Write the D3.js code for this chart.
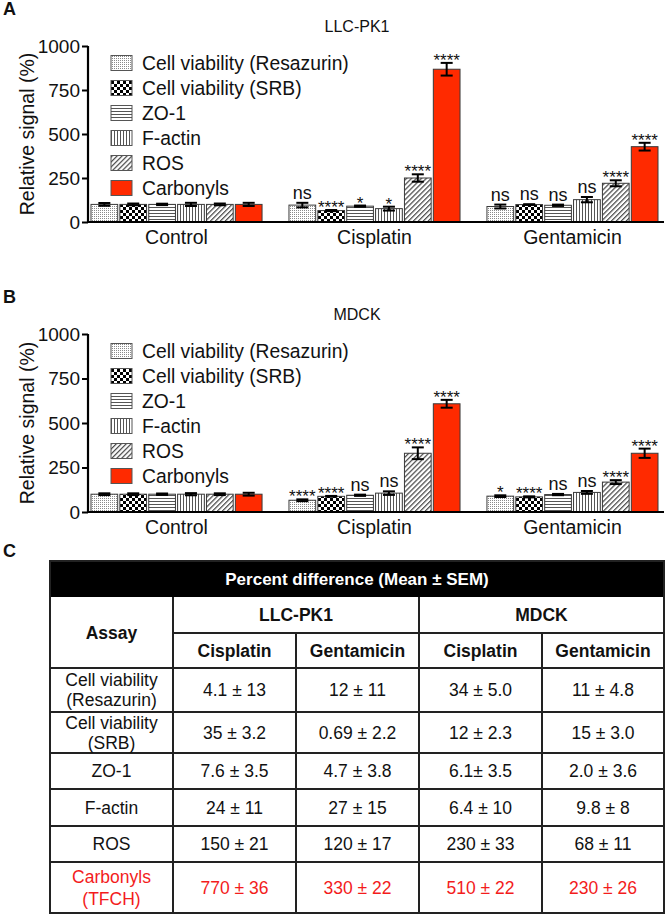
<!DOCTYPE html>
<html><head><meta charset="utf-8">
<script src="https://cdn.jsdelivr.net/npm/d3@7"></script>
<style>
html,body{margin:0;padding:0;background:#fff;}
svg{display:block;font-family:"Liberation Sans",Arial,Helvetica,sans-serif;}
</style></head>
<body>
<svg id="chart" width="666" height="916"></svg>
<script>
// ---------- DATA ----------
const categories = ["Control", "Cisplatin", "Gentamicin"];
const assays = ["Cell viability (Resazurin)", "Cell viability (SRB)", "ZO-1", "F-actin", "ROS", "Carbonyls"];
const yTicks = [0, 250, 500, 750, 1000];

// Panel A: LLC-PK1
const llcControl = [100, 100, 100, 100, 100, 100];
const llcControlErr = [8, 5, 4, 9, 5, 9];
const llcCisplatin = [96, 65, 90, 76, 250, 868];
const llcCisplatinErr = [13, 3.2, 3.5, 11, 21, 36];
const llcGentamicin = [88, 99, 95, 127, 220, 428];
const llcGentamicinErr = [11, 2.2, 3.8, 15, 17, 22];
const llcSigCisplatin = ["ns", "****", "*", "*", "****", "****"];
const llcSigGentamicin = ["ns", "ns", "ns", "ns", "****", "****"];

// Panel B: MDCK
const mdckControl = [100, 100, 100, 100, 100, 100];
const mdckControlErr = [5, 5, 4, 6, 5, 8];
const mdckCisplatin = [66, 88, 94, 106, 330, 608];
const mdckCisplatinErr = [5, 2.3, 3.5, 10, 33, 22];
const mdckGentamicin = [89, 85, 98, 110, 168, 330];
const mdckGentamicinErr = [4.8, 3, 3.6, 8, 11, 26];
const mdckSigCisplatin = ["****", "****", "ns", "ns", "****", "****"];
const mdckSigGentamicin = ["*", "****", "ns", "ns", "****", "****"];

// Panel C: table
const tableTitle = "Percent difference (Mean ± SEM)";
const tableCellLines = ["LLC-PK1", "MDCK"];
const tableDrugs = ["Cisplatin", "Gentamicin", "Cisplatin", "Gentamicin"];
const tableAssays = [["Cell viability", "(Resazurin)"], ["Cell viability", "(SRB)"], ["ZO-1"], ["F-actin"], ["ROS"], ["Carbonyls", "(TFCH)"]];
const llcCisplatinPct = ["4.1 ± 13", "35 ± 3.2", "7.6 ± 3.5", "24 ± 11", "150 ± 21", "770 ± 36"];
const llcGentamicinPct = ["12 ± 11", "0.69 ± 2.2", "4.7 ± 3.8", "27 ± 15", "120 ± 17", "330 ± 22"];
const mdckCisplatinPct = ["34 ± 5.0", "12 ± 2.3", "6.1± 3.5", "6.4 ± 10", "230 ± 33", "510 ± 22"];
const mdckGentamicinPct = ["11 ± 4.8", "15 ± 3.0", "2.0 ± 3.6", "9.8 ± 8", "68 ± 11", "230 ± 26"];

// ---------- DRAW ----------
const svg = d3.select("#chart");
const RED = "#ff2a00";
const TRED = "#f31c1c";
const FONT = '"Liberation Sans", Arial, Helvetica, sans-serif';

// patterns
const defs = svg.append("defs");
const pDots = defs.append("pattern").attr("id", "p0").attr("patternUnits", "userSpaceOnUse").attr("width", 2).attr("height", 2);
pDots.append("rect").attr("width", 2).attr("height", 2).attr("fill", "#fff");
pDots.append("rect").attr("width", 1).attr("height", 1).attr("fill", "#8a8a8a");
const pChk = defs.append("pattern").attr("id", "p1").attr("patternUnits", "userSpaceOnUse").attr("width", 6).attr("height", 6);
pChk.append("rect").attr("width", 6).attr("height", 6).attr("fill", "#fff");
pChk.append("rect").attr("width", 3).attr("height", 3).attr("fill", "#000");
pChk.append("rect").attr("x", 3).attr("y", 3).attr("width", 3).attr("height", 3).attr("fill", "#000");
const pH = defs.append("pattern").attr("id", "p2").attr("patternUnits", "userSpaceOnUse").attr("width", 4).attr("height", 3);
pH.append("rect").attr("width", 4).attr("height", 3).attr("fill", "#fff");
pH.append("rect").attr("width", 4).attr("height", 1).attr("fill", "#555");
const pV = defs.append("pattern").attr("id", "p3").attr("patternUnits", "userSpaceOnUse").attr("width", 3).attr("height", 4);
pV.append("rect").attr("width", 3).attr("height", 4).attr("fill", "#fff");
pV.append("rect").attr("width", 1).attr("height", 4).attr("fill", "#555");
const pD = defs.append("pattern").attr("id", "p4").attr("patternUnits", "userSpaceOnUse").attr("width", 3.5).attr("height", 4).attr("patternTransform", "rotate(45)");
pD.append("rect").attr("width", 3.5).attr("height", 4).attr("fill", "#fff");
pD.append("rect").attr("width", 1.2).attr("height", 4).attr("fill", "#444");

const fills = ["url(#p0)", "url(#p1)", "url(#p2)", "url(#p3)", "url(#p4)", RED];

function panel(cfg) {
  const g = svg.append("g");
  const y = d3.scaleLinear().domain([0, 1000]).range([cfg.y0, cfg.y1]);
  const x = d3.scaleBand().domain(categories).range([91, 658]).paddingInner(0.136).paddingOuter(0);
  const xs = d3.scaleBand().domain(assays).range([0, x.bandwidth()]).paddingInner(0.075).paddingOuter(0);

  // panel letter
  g.append("text").attr("x", 3).attr("y", cfg.y1 - 31).attr("font-size", 18).attr("font-weight", "bold").attr("fill", "#111").text(cfg.letter);
  // title
  g.append("text").attr("x", 357).attr("y", cfg.y1 - 14).attr("text-anchor", "middle").attr("font-size", 16).attr("fill", "#111").text(cfg.title);
  // y title
  g.append("text").attr("transform", `translate(34,${(cfg.y0 + cfg.y1) / 2}) rotate(-90)`).attr("text-anchor", "middle").attr("font-size", 19.5).attr("fill", "#111").text("Relative signal (%)");

  const values = [cfg.control, cfg.cisplatin, cfg.gentamicin];
  const errs = [cfg.controlErr, cfg.cisplatinErr, cfg.gentamicinErr];
  const sigs = [null, cfg.sigCis, cfg.sigGen];
  const rows = [];
  categories.forEach((c, ci) => assays.forEach((a, ai) => rows.push({c, a, ai, v: values[ci][ai], e: errs[ci][ai], s: sigs[ci] ? sigs[ci][ai] : null})));

  const bars = g.append("g");
  bars.selectAll("rect").data(rows).join("rect")
    .attr("x", d => x(d.c) + xs(d.a)).attr("width", xs.bandwidth())
    .attr("y", d => y(d.v)).attr("height", d => y(0) - y(d.v))
    .attr("fill", d => fills[d.ai]).attr("stroke", "#3a3a3a").attr("stroke-width", 1);

  // error bars
  const eb = g.append("g").attr("stroke", "#000").attr("stroke-width", 2);
  rows.forEach(d => {
    const cx = x(d.c) + xs(d.a) + xs.bandwidth() / 2;
    eb.append("line").attr("x1", cx).attr("x2", cx).attr("y1", y(d.v + d.e)).attr("y2", y(d.v - d.e));
    eb.append("line").attr("x1", cx - 6).attr("x2", cx + 6).attr("y1", y(d.v + d.e)).attr("y2", y(d.v + d.e));
    eb.append("line").attr("x1", cx - 6).attr("x2", cx + 6).attr("y1", y(d.v - d.e)).attr("y2", y(d.v - d.e));
  });

  // significance
  g.append("g").selectAll("text").data(rows.filter(d => d.s)).join("text")
    .attr("x", d => x(d.c) + xs(d.a) + xs.bandwidth() / 2)
    .attr("y", d => d.s === "ns" ? y(d.v + d.e) - 4 : y(d.v + d.e) + 3)
    .attr("text-anchor", "middle")
    .attr("font-size", d => d.s === "ns" ? 18 : 17)
    .attr("fill", "#111")
    .text(d => d.s);

  // axes
  const yAxis = g.append("g").attr("transform", "translate(88,0)")
    .call(d3.axisLeft(y).tickValues(yTicks).tickSize(6).tickPadding(2).tickFormat(d3.format("d")));
  yAxis.select(".domain").attr("stroke", "#000").attr("stroke-width", 2.2).attr("d", `M0,${y(1000)}V${y(0)}`);
  yAxis.selectAll(".tick line").attr("stroke", "#000").attr("stroke-width", 2);
  yAxis.selectAll(".tick text").attr("font-size", 19).attr("font-family", FONT).attr("fill", "#111");

  const xAxis = g.append("g").attr("transform", `translate(0,${y(0)})`)
    .call(d3.axisBottom(x).tickSize(0).tickPadding(8));
  xAxis.select(".domain").attr("stroke", "#000").attr("stroke-width", 2.2).attr("d", `M87,0H664`);
  xAxis.selectAll(".tick text").attr("font-size", 19.5).attr("font-family", FONT).attr("fill", "#111");

  // legend
  const lg = g.append("g");
  assays.forEach((a, i) => {
    const cy = y(1000) + 17 + i * 25;
    lg.append("rect").attr("x", 111).attr("y", cy - 7.5).attr("width", 21).attr("height", 15)
      .attr("fill", fills[i]).attr("stroke", "#555").attr("stroke-width", 1);
    lg.append("text").attr("x", 142).attr("y", cy).attr("dy", "0.36em").attr("font-size", 19.3).attr("fill", "#111").text(a);
  });
}

panel({letter: "A", title: "LLC-PK1", y0: 222, y1: 46,
  control: llcControl, controlErr: llcControlErr, cisplatin: llcCisplatin, cisplatinErr: llcCisplatinErr,
  gentamicin: llcGentamicin, gentamicinErr: llcGentamicinErr, sigCis: llcSigCisplatin, sigGen: llcSigGentamicin});
panel({letter: "B", title: "MDCK", y0: 512, y1: 334,
  control: mdckControl, controlErr: mdckControlErr, cisplatin: mdckCisplatin, cisplatinErr: mdckCisplatinErr,
  gentamicin: mdckGentamicin, gentamicinErr: mdckGentamicinErr, sigCis: mdckSigCisplatin, sigGen: mdckSigGentamicin});

// ---------- TABLE ----------
const tg = svg.append("g");
tg.append("text").attr("x", 3).attr("y", 557).attr("font-size", 18).attr("font-weight", "bold").attr("fill", "#111").text("C");
const colX = [50, 173, 296, 419, 542, 664];
const rowY = [561, 597, 633, 668, 712, 753, 789, 826, 862, 913];
const LW = 2, LC = "#222";
tg.append("rect").attr("x", colX[0]).attr("y", rowY[0]).attr("width", colX[5] - colX[0]).attr("height", rowY[1] - rowY[0]).attr("fill", "#000");
tg.append("text").attr("x", (colX[0] + colX[5]) / 2).attr("y", (rowY[0] + rowY[1]) / 2).attr("dy", "0.36em")
  .attr("text-anchor", "middle").attr("font-size", 17).attr("font-weight", "bold").attr("fill", "#fff").text(tableTitle);

function hline(x1, x2, yy) { tg.append("line").attr("x1", x1).attr("x2", x2).attr("y1", yy).attr("y2", yy).attr("stroke", LC).attr("stroke-width", LW); }
function vline(xx, y1, y2) { tg.append("line").attr("x1", xx).attr("x2", xx).attr("y1", y1).attr("y2", y2).attr("stroke", LC).attr("stroke-width", LW); }
hline(colX[1], colX[5], rowY[2]);
hline(colX[1], colX[5], rowY[3]);
for (let r = 3; r < rowY.length; r++) hline(colX[0], colX[5], rowY[r]);
vline(colX[0], rowY[0], rowY[9]);
vline(colX[5], rowY[0], rowY[9]);
vline(colX[1], rowY[1], rowY[9]);
vline(colX[3], rowY[1], rowY[9]);
vline(colX[2], rowY[2], rowY[9]);
vline(colX[4], rowY[2], rowY[9]);
tg.append("rect").attr("x", colX[0]).attr("y", rowY[0]).attr("width", colX[5] - colX[0]).attr("height", rowY[9] - rowY[0]).attr("fill", "none").attr("stroke", LC).attr("stroke-width", LW);

function cellText(cx, cy, lines, opts) {
  const lh = opts.lh || 20;
  lines.forEach((t, i) => {
    tg.append("text").attr("x", cx).attr("y", cy + (i - (lines.length - 1) / 2) * lh).attr("dy", "0.36em")
      .attr("text-anchor", "middle").attr("font-size", opts.size || 17.5).attr("font-weight", opts.bold ? "bold" : "normal")
      .attr("fill", opts.color || "#111").text(t);
  });
}
cellText((colX[0] + colX[1]) / 2, (rowY[1] + rowY[3]) / 2, ["Assay"], {bold: true});
cellText((colX[1] + colX[3]) / 2, (rowY[1] + rowY[2]) / 2, [tableCellLines[0]], {bold: true});
cellText((colX[3] + colX[5]) / 2, (rowY[1] + rowY[2]) / 2, [tableCellLines[1]], {bold: true});
tableDrugs.forEach((d, i) => cellText((colX[i + 1] + colX[i + 2]) / 2, (rowY[2] + rowY[3]) / 2, [d], {bold: true}));
const pctCols = [llcCisplatinPct, llcGentamicinPct, mdckCisplatinPct, mdckGentamicinPct];
tableAssays.forEach((lines, r) => {
  const cy = (rowY[r + 3] + rowY[r + 4]) / 2;
  const red = r === tableAssays.length - 1;
  const color = red ? TRED : "#111";
  cellText((colX[0] + colX[1]) / 2, cy, lines, {color, lh: red ? 22 : 20});
  pctCols.forEach((col, c) => cellText((colX[c + 1] + colX[c + 2]) / 2, cy, [col[r]], {color}));
});
</script>
</body></html>
